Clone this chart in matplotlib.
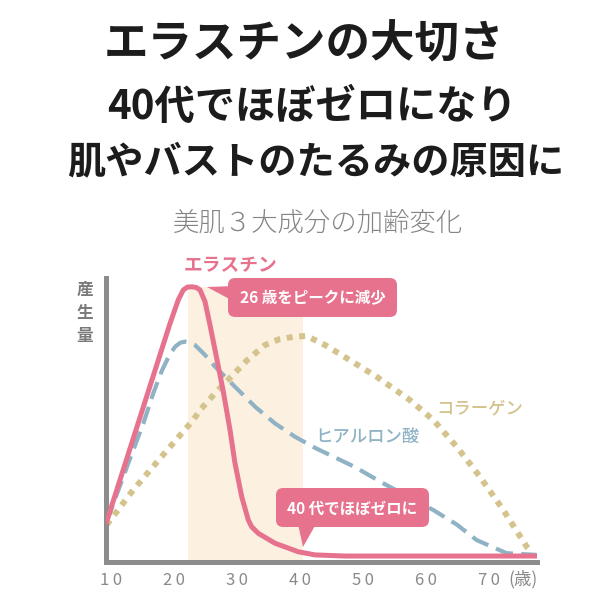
import matplotlib.pyplot as plt
from matplotlib.patches import FancyBboxPatch, Polygon

plt.rcParams['font.family'] = ['Noto Sans CJK JP', 'DejaVu Sans']

# data (age in years, amount on a 0-100 scale)
elastin_age = [9.2, 19.29, 20.6, 21.4, 22.05, 22.73, 23.4, 24.05, 24.84, 25.63,
               26.7, 27.75, 28.81, 29.6, 30.67, 31.71, 32.25, 33.3, 35.95, 39.65,
               42.3, 47.06, 77.54]
elastin_val = [14.0, 84.0, 92.3, 95.8, 96.8, 96.9, 96.7, 95.8, 91.7, 83.5,
               71.7, 60.0, 46.5, 34.8, 23.0, 14.8, 12.4, 10.1, 6.6, 3.6,
               2.5, 2.1, 2.1]

hyaluronic_age = [9.2, 12.67, 15.05, 16.63, 18.0, 19.2, 20.1, 20.9, 21.67, 22.5,
                  23.25, 24.84, 26.43, 28.0, 29.6, 32.78, 35.95, 39.13, 42.3,
                  45.48, 48.5, 53.14, 61.08, 64.8, 67.97, 72.73, 77.49]
hyaluronic_val = [14.0, 34.8, 48.8, 59.4, 67.4, 72.9, 75.8, 77.2, 77.6, 77.2,
                  76.4, 72.9, 68.8, 65.3, 61.7, 54.7, 48.8, 44.1, 40.2,
                  36.8, 33.6, 27.7, 18.3, 13.2, 7.7, 3.1, 2.5]

collagen_age = [9.2, 13.46, 18.76, 22.98, 24.05, 26.43, 28.0, 29.6, 31.5, 34.37,
                36.6, 38.86, 40.98, 43.9, 46.5, 52.1, 57.38, 61.08, 64.79,
                68.49, 72.19, 75.9, 76.43]
collagen_val = [13.0, 25.4, 39.2, 50.0, 53.5, 59.4, 63.0, 66.6, 71.0, 76.4,
                78.4, 79.3, 79.6, 76.4, 72.9, 65.2, 57.0, 50.0, 40.6,
                30.0, 18.3, 5.4, 4.2]

band_age = [22.2, 40.4]
tick_ages = [10, 20, 30, 40, 50, 60, 70]
tick_labels = ['1\u20090', '2\u20090', '3\u20090', '4\u20090', '5\u20090', '6\u20090', '7\u20090']

PINK = '#E6728D'
BLUE = '#8FB3C4'
TAN = '#D4C38D'
BAND = '#FCF1E0'
AXIS_GRAY = '#8C8C8C'
TEXT_GRAY = '#8A8A8A'


def px(x, y):
    # pixel position in the 600x600 picture -> figure fraction
    return x / 600, 1 - y / 600


fig = plt.figure(figsize=(6, 6), dpi=100)
fig.patch.set_facecolor('white')

# headline
fig.text(*px(304, 44), 'エラスチンの大切さ', fontsize=32, fontweight='bold',
         color='#1c1c1c', ha='center', va='center')
fig.text(*px(312, 107), '40代でほぼゼロになり', fontsize=29, fontweight='bold',
         color='#1c1c1c', ha='center', va='center')
fig.text(*px(316, 162), '肌やバストのたるみの原因に', fontsize=27.5, fontweight='bold',
         color='#1c1c1c', ha='center', va='center')
fig.text(*px(318, 223), '美肌３大成分の加齢変化', fontsize=19, fontweight='light',
         color='#858585', ha='center', va='center')

ax = fig.add_axes([106 / 600, 38 / 600, 431 / 600, 284 / 600])
ax.set_xlim(9.127, 77.54)
ax.set_ylim(0, 100)

ax.axvspan(band_age[0], band_age[1], ymax=0.968, color=BAND, lw=0, zorder=0)

ax.plot(collagen_age, collagen_val, color=TAN, lw=4.3, linestyle=(0, (1.0, 1.1)),
        dash_capstyle='butt', zorder=2)
ax.plot(hyaluronic_age, hyaluronic_val, color=BLUE, lw=3.0, linestyle=(0, (4.3, 2.0)),
        dash_capstyle='butt', dash_joinstyle='round', zorder=3)
ax.plot(elastin_age, elastin_val, color=PINK, lw=3.6, solid_joinstyle='round',
        solid_capstyle='round', zorder=4)

for side in ['top', 'right']:
    ax.spines[side].set_visible(False)
for side in ['left', 'bottom']:
    ax.spines[side].set_linewidth(3.6)
    ax.spines[side].set_color(AXIS_GRAY)
    ax.spines[side].set_capstyle('projecting')

ax.set_yticks([])
ax.set_xticks(tick_ages)
ax.set_xticklabels(tick_labels, fontsize=12, color=TEXT_GRAY)
ax.tick_params(axis='x', length=0, pad=7)
fig.text(*px(523, 579), '(歳)', fontsize=12.5, color=TEXT_GRAY, ha='center', va='center')

# y label stacked vertically
for ch, yy in zip('産生量', [290, 313, 336]):
    fig.text(*px(85, yy), ch, fontsize=12, fontweight='bold', color='#7a7a7a',
             ha='center', va='center')

# series names
fig.text(*px(230, 266), 'エラスチン', fontsize=13.5, fontweight='bold', color=PINK,
         ha='center', va='center')
fig.text(*px(480, 408), 'コラーゲン', fontsize=12.5, fontweight='medium', color=TAN,
         ha='center', va='center')
fig.text(*px(367, 437), 'ヒアルロン酸', fontsize=12.5, fontweight='medium', color=BLUE,
         ha='center', va='center')


# callout boxes
def callout(x0, y0, x1, y1, tri, label):
    bx, by = px(x0, y1)
    w, h = (x1 - x0) / 600, (y1 - y0) / 600
    box = FancyBboxPatch((bx, by), w, h, boxstyle='round,pad=0,rounding_size=0.012',
                         transform=fig.transFigure, facecolor=PINK, edgecolor='none',
                         zorder=5)
    fig.patches.append(box)
    pts = [px(a, b) for a, b in tri]
    fig.patches.append(Polygon(pts, closed=True, transform=fig.transFigure,
                               facecolor=PINK, edgecolor='none', zorder=5))
    fig.text(*px((x0 + x1) / 2, (y0 + y1) / 2 + 1), label, fontsize=11.2,
             fontweight='bold', color='white', ha='center', va='center', zorder=6)


callout(228, 278, 397, 317, [(207, 287), (235, 286), (235, 302)], '26 歳をピークに減少')
callout(276, 488, 429, 527, [(298, 524), (316, 524), (303, 547)], '40 代でほぼゼロに')

fig.savefig('out.png', dpi=100)
